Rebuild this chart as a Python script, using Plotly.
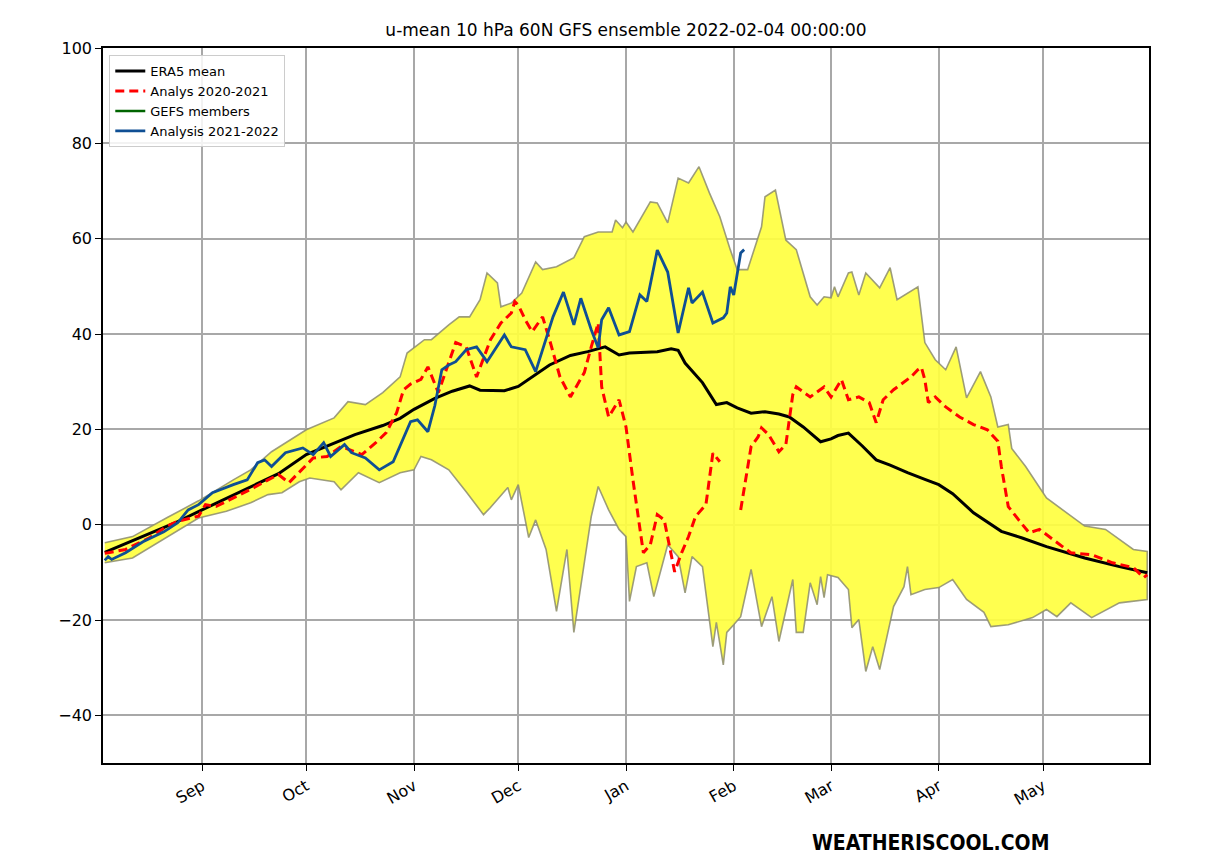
import pandas as pd
import plotly.graph_objects as go

# ---- data (day offsets from 2021-08-04, values in m/s) ----
base_date = "2021-08-04"

era5_days = [0, 10, 20, 28, 40, 50, 58, 65, 72, 80, 85, 89, 95, 100, 105, 108, 112, 115, 119, 123, 128,
             134, 139, 144, 148, 151, 155, 159, 163, 165, 167, 172, 176, 179, 182, 186, 190, 194, 197,
             201, 206, 209, 211, 214, 218, 222, 226, 231, 236, 240, 244, 250, 258, 264, 271, 282, 292, 300]
era5_vals = [-5.8, -2.8, 0.3, 3.1, 7.3, 10.7, 14.7, 16.8, 18.9, 20.8, 22.3, 24.2, 26.5, 28.0, 29.1, 28.2,
             28.1, 28.1, 29.0, 31.0, 33.5, 35.5, 36.3, 37.3, 35.6, 36.0, 36.1, 36.3, 36.9, 36.6, 33.9,
             29.8, 25.2, 25.6, 24.5, 23.4, 23.7, 23.2, 22.6, 20.5, 17.4, 18.0, 18.7, 19.2, 16.5, 13.6,
             12.5, 10.9, 9.5, 8.4, 6.5, 2.5, -1.4, -2.8, -4.6, -7.0, -8.8, -10.1]

an2122_days = [0, 1, 2, 6, 11, 17, 21, 24, 27, 31, 37, 41, 44, 46, 48, 52, 57, 60, 63, 65, 69, 71, 75,
               79, 83, 86, 88, 90, 93, 95, 97, 99, 101, 104, 107, 110, 115, 117, 121, 124, 129, 132, 135,
               137, 140, 142, 143, 145, 148, 151, 154, 156, 159, 162, 165, 168, 169, 172, 175, 178, 179,
               180, 181, 183, 184]
an2122_vals = [-7.5, -6.7, -7.3, -5.9, -3.6, -1.5, 0.4, 3.1, 4.2, 6.7, 8.4, 9.4, 13.0, 13.6, 12.2, 15.1,
               16.1, 14.7, 17.2, 14.3, 16.8, 15.1, 14.0, 11.5, 13.2, 18.2, 21.6, 22.0, 19.5, 25.0, 32.5,
               33.5, 34.2, 36.7, 37.3, 34.2, 39.8, 37.3, 36.7, 32.1, 43.6, 48.8, 41.9, 47.5, 40.9, 37.1,
               43.0, 45.5, 39.8, 40.5, 48.2, 46.8, 57.6, 53.0, 40.2, 49.7, 46.5, 48.8, 42.3, 43.4, 44.4,
               49.9, 48.2, 57.0, 57.7]

an2021a_days = [0, 1, 6, 13, 18, 21, 27, 29, 32, 37, 43, 47, 50, 53, 56, 60, 64, 68, 74, 78, 81, 84, 86,
                88, 91, 93, 96, 101, 104, 107, 111, 114, 117, 118, 119, 121, 123, 126, 128, 131, 134, 138,
                140, 142, 143, 145, 148, 150, 152, 154, 155, 157, 159, 161, 163, 164, 166, 168, 170, 173,
                175, 177]
an2021a_vals = [-6.0, -5.9, -5.2, -2.7, -0.3, 0.7, 1.8, 4.2, 3.8, 5.6, 7.8, 9.4, 10.5, 8.8, 11.1, 14.0,
                14.3, 16.4, 14.7, 17.2, 19.3, 23.5, 28.3, 29.5, 30.5, 33.1, 27.7, 38.2, 37.3, 31.0, 38.8,
                42.3, 44.4, 46.8, 46.1, 43.0, 40.5, 43.6, 38.8, 31.0, 26.8, 31.9, 37.3, 42.3, 28.9, 22.6,
                26.2, 20.5, 9.4, -1.0, -5.9, -4.2, 2.1, 1.0, -5.9, -9.9, -5.9, -2.5, 1.7, 4.2, 15.0, 13.2]

an2021b_days = [183, 185, 186, 188, 189, 191, 194, 196, 198, 199, 203, 207, 209, 212, 214, 217, 220, 222,
                224, 227, 231, 232, 234, 235, 236, 237, 239, 242, 246, 250, 254, 257, 258, 260, 263, 266,
                269, 273, 278, 284, 290, 296, 299, 300]
an2021b_vals = [3.1, 11.5, 16.4, 18.4, 20.3, 18.9, 15.3, 16.8, 27.3, 28.9, 26.8, 28.9, 26.8, 30.4, 26.2,
                26.8, 25.6, 21.4, 26.2, 28.3, 30.4, 31.0, 32.5, 33.0, 30.4, 25.6, 26.8, 24.7, 22.6, 21.0,
                19.9, 17.5, 12.2, 3.8, 1.0, -1.7, -1.0, -3.1, -5.9, -6.3, -8.0, -9.0, -11.1, -10.5]

gefs_max_days = [0, 8, 18, 27, 37, 42, 48, 58, 66, 70, 75, 80, 85, 87, 92, 94, 99, 102, 105, 108, 110, 113,
                 114, 117, 120, 124, 126, 130, 135, 138, 142, 146, 147, 149, 150, 152, 157, 159, 162, 165,
                 168, 171, 174, 177, 180, 182, 185, 189, 190, 193, 196, 199, 203, 205, 207, 209, 210, 211,
                 214, 215, 217, 219, 223, 226, 228, 234, 236, 239, 242, 245, 248, 252, 255, 257, 260, 261,
                 265, 271, 282, 288, 296, 300]
gefs_max_vals = [-3.8, -2.5, 1.5, 5.0, 9.4, 11.5, 15.3, 19.9, 22.4, 25.8, 25.2, 27.7, 31.0, 36.0, 38.8,
                 38.8, 41.9, 43.6, 43.6, 47.2, 52.8, 50.7, 45.7, 46.5, 48.6, 55.1, 53.5, 54.1, 56.0, 60.4,
                 61.4, 61.4, 63.9, 62.3, 63.5, 61.4, 67.7, 67.5, 63.3, 72.7, 71.7, 75.1, 69.6, 64.6, 57.7,
                 53.5, 53.5, 62.5, 68.8, 70.2, 59.7, 57.7, 47.8, 46.1, 47.8, 47.6, 49.9, 47.8, 52.8, 53.0,
                 48.2, 52.8, 49.7, 53.9, 47.2, 49.9, 38.2, 34.6, 32.5, 37.3, 26.6, 32.1, 26.8, 20.5, 21.0,
                 16.0, 12.2, 5.6, -0.3, -1.0, -5.2, -5.6]

gefs_min_days = [0, 8, 18, 27, 35, 42, 47, 51, 56, 59, 66, 68, 73, 79, 85, 89, 91, 94, 99, 104, 109, 111,
                 116, 117, 119, 122, 124, 127, 130, 133, 135, 140, 142, 145, 148, 150, 151, 153, 156, 158,
                 162, 165, 167, 169, 172, 175, 176, 178, 179, 181, 183, 186, 189, 192, 194, 198, 199, 201,
                 203, 205, 206, 207, 208, 211, 214, 215, 217, 219, 221, 223, 227, 230, 231, 232, 236, 240,
                 244, 248, 253, 255, 260, 267, 271, 274, 278, 284, 292, 300]
gefs_min_vals = [-8.0, -7.0, -2.5, 1.4, 2.8, 4.6, 6.3, 6.7, 9.0, 9.8, 9.0, 7.3, 10.9, 8.8, 10.9, 11.5,
                 14.3, 13.6, 11.5, 6.9, 2.1, 3.6, 7.8, 5.2, 8.4, -2.7, 1.0, -5.2, -18.2, -5.2, -22.6, 1.7,
                 8.0, 3.1, -1.0, -2.5, -16.1, -8.8, -8.0, -15.1, -4.2, -6.7, -14.3, -6.7, -8.8, -25.6,
                 -20.5, -29.4, -22.6, -21.0, -19.3, -9.4, -21.4, -15.1, -24.5, -11.5, -22.6, -22.6, -12.2,
                 -16.8, -10.9, -15.3, -10.5, -11.1, -13.6, -21.6, -19.9, -30.8, -25.6, -30.4, -17.2,
                 -13.0, -8.8, -14.7, -13.6, -13.2, -11.5, -15.7, -18.4, -21.4, -21.0, -19.5, -17.8, -19.3,
                 -16.4, -19.5, -16.4, -15.7]

month_ticks = ["2021-09-01", "2021-10-01", "2021-11-01", "2021-12-01", "2022-01-01",
               "2022-02-01", "2022-03-01", "2022-04-01", "2022-05-01"]
month_labels = ["Sep", "Oct", "Nov", "Dec", "Jan", "Feb", "Mar", "Apr", "May"]

title_text = "u-mean 10 hPa 60N GFS ensemble 2022-02-04 00:00:00"
watermark = "WEATHERISCOOL.COM"

# ---- helpers ----
t0 = pd.Timestamp(base_date)


def to_dates(days):
    return [t0 + pd.Timedelta(days=d) for d in days]


W, H = 1200, 860          # page body has an 8px margin
L, R, T, B = 95, 59, 40, 105

fig = go.Figure()

band_x = to_dates(gefs_max_days) + to_dates(gefs_min_days)[::-1]
band_y = gefs_max_vals + gefs_min_vals[::-1]
fig.add_trace(go.Scatter(
    x=band_x, y=band_y, fill="toself", mode="lines",
    fillcolor="rgba(255,255,64,0.92)",
    line=dict(color="rgba(140,140,110,0.85)", width=1.6),
    showlegend=False, hoverinfo="skip"))

fig.add_trace(go.Scatter(x=to_dates(era5_days), y=era5_vals, mode="lines",
                         name="ERA5 mean", line=dict(color="black", width=3)))
fig.add_trace(go.Scatter(x=to_dates(an2021a_days), y=an2021a_vals, mode="lines",
                         name="Analys 2020-2021",
                         line=dict(color="#ff0000", width=3, dash="9px,5px")))
fig.add_trace(go.Scatter(x=to_dates(an2021b_days), y=an2021b_vals, mode="lines",
                         name="Analys 2020-2021", showlegend=False,
                         line=dict(color="#ff0000", width=3, dash="9px,5px")))
fig.add_trace(go.Scatter(x=[None], y=[None], mode="lines", name="GEFS members",
                         line=dict(color="#006400", width=2.5)))
fig.add_trace(go.Scatter(x=to_dates(an2122_days), y=an2122_vals, mode="lines",
                         name="Analysis 2021-2022", line=dict(color="#0f4f94", width=2.8)))

pw = W - L - R
ph = H - T - B

fig.update_layout(
    width=W, height=H,
    margin=dict(l=L, r=R, t=T, b=B),
    paper_bgcolor="white", plot_bgcolor="white",
    font=dict(family="DejaVu Sans", size=16, color="black"),
    title=dict(text=title_text, x=(L + pw / 2) / W, xanchor="center",
               y=1 - 22 / H, yanchor="middle", font=dict(size=17)),
    showlegend=True,
    legend=dict(x=0.006, y=0.99, xanchor="left", yanchor="top",
                bgcolor="rgba(255,255,255,0.85)", bordercolor="#cccccc", borderwidth=1,
                font=dict(size=13), tracegroupgap=0, itemwidth=30),
)

fig.update_xaxes(
    range=[t0 - pd.Timedelta(hours=12), t0 + pd.Timedelta(days=300, hours=12)],
    tickvals=[pd.Timestamp(t) for t in month_ticks], ticktext=month_labels,
    tickangle=-30, ticks="outside", ticklen=6, tickwidth=1.2, tickcolor="black",
    showgrid=True, gridcolor="#a8a8a8", gridwidth=1.5,
    showline=True, linecolor="black", linewidth=1.5, mirror=True,
    zeroline=False, tickfont=dict(size=16))
fig.update_yaxes(
    range=[-50, 100], tickvals=[-40, -20, 0, 20, 40, 60, 80, 100],
    ticktext=["\u221240", "\u221220", "0", "20", "40", "60", "80", "100"],
    ticks="outside", ticklen=6, tickwidth=1.2, tickcolor="black",
    showgrid=True, gridcolor="#a8a8a8", gridwidth=1.5,
    showline=True, linecolor="black", linewidth=1.5, mirror=True,
    zeroline=False, tickfont=dict(size=16))

fig.add_annotation(text="<b>" + watermark + "</b>", xref="paper", yref="paper",
                   x=(922 - L) / pw, y=-(835 - (T + ph)) / ph, xanchor="center", yanchor="middle",
                   showarrow=False,
                   font=dict(family="Liberation Sans Narrow, DejaVu Sans Condensed, Arial Narrow",
                             size=21, color="black"))

fig.write_html("out.html")
